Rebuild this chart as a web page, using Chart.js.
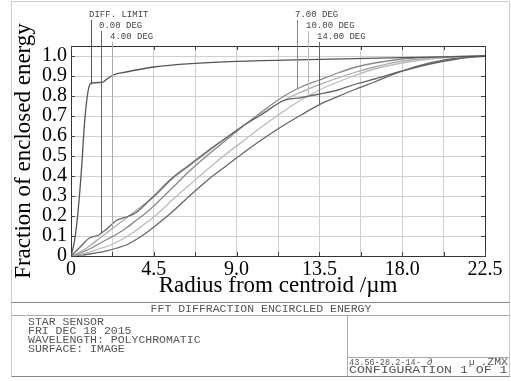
<!DOCTYPE html>
<html>
<head>
<meta charset="utf-8">
<script src="https://cdn.jsdelivr.net/npm/chart.js@4/dist/chart.umd.min.js"></script>
<style>
  html, body { margin: 0; padding: 0; background: #fff; }
  #chart { display: block; }
</style>
</head>
<body>
<canvas id="chart" width="511" height="381"></canvas>
<script>
// --- data ---
const diffRadius = [0, 0.2, 0.38, 0.56, 0.74, 0.92, 1.1, 1.7, 1.95, 2.3, 3.0, 4.5, 6.75, 9, 13.5, 18, 22.5];
const diffLimit  = [0, 0.08, 0.22, 0.42, 0.67, 0.82, 0.865, 0.868, 0.885, 0.905, 0.92, 0.945, 0.963, 0.973, 0.983, 0.992, 1.0];

const radius  = [0, 0.5, 1, 1.5, 2, 2.5, 3, 3.5, 4, 4.5, 5.5, 6.5, 7.5, 8.5, 9.5, 10.5, 11.5, 12.5, 13.5, 14.5, 15.5, 16.5, 18, 19.5, 21, 22.5];
const field0  = [0, 0.045, 0.09, 0.105, 0.14, 0.18, 0.195, 0.215, 0.255, 0.30, 0.39, 0.46, 0.53, 0.595, 0.66, 0.715, 0.775, 0.792, 0.81, 0.83, 0.86, 0.885, 0.925, 0.96, 0.985, 1.0];
const field4  = [0, 0.02, 0.05, 0.085, 0.12, 0.155, 0.19, 0.225, 0.26, 0.295, 0.385, 0.455, 0.525, 0.595, 0.66, 0.72, 0.775, 0.82, 0.857, 0.89, 0.92, 0.945, 0.974, 0.99, 0.997, 1.0];
const field7  = [0, 0.015, 0.035, 0.06, 0.085, 0.11, 0.14, 0.175, 0.21, 0.25, 0.34, 0.43, 0.51, 0.585, 0.66, 0.73, 0.795, 0.845, 0.88, 0.915, 0.945, 0.965, 0.985, 0.993, 0.998, 1.0];
const field10 = [0, 0.008, 0.02, 0.035, 0.05, 0.07, 0.095, 0.125, 0.16, 0.195, 0.28, 0.36, 0.44, 0.515, 0.585, 0.655, 0.72, 0.78, 0.83, 0.87, 0.905, 0.935, 0.965, 0.985, 0.995, 1.0];
const field14 = [0, 0.004, 0.01, 0.018, 0.027, 0.04, 0.055, 0.08, 0.11, 0.145, 0.22, 0.305, 0.385, 0.455, 0.525, 0.59, 0.65, 0.705, 0.757, 0.797, 0.835, 0.87, 0.925, 0.965, 0.99, 1.0];

const seriesNames = ['DIFF. LIMIT', '0.00 DEG', '4.00 DEG', '7.00 DEG', '10.00 DEG', '14.00 DEG'];
const labelRadius = [1.07, 1.63, 2.25, 12.3, 12.9, 13.5];   // where each leader line drops onto its curve

const xTickLabels = ['0', '4.5', '9.0', '13.5', '18.0', '22.5'];
const yTickLabels = ['0', '0.1', '0.2', '0.3', '0.4', '0.5', '0.6', '0.7', '0.8', '0.9', '1.0'];

const plotTitle = 'FFT DIFFRACTION ENCIRCLED ENERGY';
const infoLines = ['STAR SENSOR', 'FRI DEC 18 2015', 'WAVELENGTH: POLYCHROMATIC', 'SURFACE: IMAGE'];
const configLine = 'CONFIGURATION 1 OF 1';

const colors = ['#555', '#666', '#aaa', '#888', '#bbb', '#666'];

function points(xs, ys) {
    return xs.map((x, i) => ({ x: x, y: ys[i] }));
}

const seriesData = [
    points(diffRadius, diffLimit),
    points(radius, field0),
    points(radius, field4),
    points(radius, field7),
    points(radius, field10),
    points(radius, field14)
];

// value of a curve at x (linear between samples), for the leader lines
function valueAt(data, x) {
    for (let i = 1; i < data.length; i++) {
        if (x <= data[i].x) {
            const a = data[i - 1], b = data[i];
            return a.y + (b.y - a.y) * (x - a.x) / (b.x - a.x);
        }
    }
    return data[data.length - 1].y;
}

function monoText(ctx, text, x, y, size, stretch, align) {
    ctx.save();
    ctx.font = size + 'px "Liberation Mono", "DejaVu Sans Mono", monospace';
    ctx.textBaseline = 'middle';
    let w = ctx.measureText(text).width * stretch;
    let x0 = x;
    if (align === 'center') x0 = x - w / 2;
    if (align === 'right') x0 = x - w;
    ctx.translate(x0, y);
    ctx.scale(stretch, 1);
    ctx.textAlign = 'left';
    ctx.fillText(text, 0, 0);
    ctx.restore();
}

function hline(ctx, x1, x2, y) {
    ctx.beginPath(); ctx.moveTo(x1, y); ctx.lineTo(x2, y); ctx.stroke();
}
function vline(ctx, x, y1, y2) {
    ctx.beginPath(); ctx.moveTo(x, y1); ctx.lineTo(x, y2); ctx.stroke();
}

// --- frame, inner ticks, leader labels and the info box ---
const decorations = {
    id: 'decorations',
    afterDatasetsDraw(chart) {
        const ctx = chart.ctx;
        const area = chart.chartArea;
        const xs = chart.scales.x, ys = chart.scales.y;

        ctx.save();
        ctx.lineWidth = 1;

        // plot frame
        ctx.strokeStyle = '#333';
        ctx.strokeRect(Math.round(area.left) + 0.5, Math.round(area.top) + 0.5,
            Math.round(area.right - area.left), Math.round(area.bottom - area.top));

        // inner tick marks
        ctx.strokeStyle = '#444';
        xs.ticks.forEach(t => {
            const px = Math.round(xs.getPixelForValue(t.value)) + 0.5;
            vline(ctx, px, area.top, area.top + 4);
            vline(ctx, px, area.bottom - 4, area.bottom);
        });
        ys.ticks.forEach(t => {
            const py = Math.round(ys.getPixelForValue(t.value)) + 0.5;
            hline(ctx, area.left, area.left + 4, py);
            hline(ctx, area.right - 4, area.right, py);
        });

        // leader lines from the labels down to each curve
        const rowY = [15, 26, 37];
        seriesNames.forEach((name, i) => {
            const row = i % 3;
            const px = Math.round(xs.getPixelForValue(labelRadius[i])) + 0.5;
            const py = ys.getPixelForValue(valueAt(seriesData[i], labelRadius[i]));
            ctx.strokeStyle = colors[i];
            vline(ctx, px, rowY[row] + 5, py);
            ctx.fillStyle = '#444';
            monoText(ctx, name, px - 2.5, rowY[row], 8.5, 1.06, 'left');
        });

        // outer border
        ctx.strokeStyle = '#ccc';
        hline(ctx, 11.5, 509.5, 1.5);
        vline(ctx, 11.5, 1.5, 377);
        vline(ctx, 509.5, 1.5, 377);

        // info box
        ctx.strokeStyle = '#888';
        hline(ctx, 11.5, 509.5, 302.5);
        ctx.strokeStyle = '#aaa';
        hline(ctx, 11.5, 509.5, 315.5);
        vline(ctx, 347.5, 315.5, 377);
        hline(ctx, 347.5, 509.5, 357.5);
        ctx.strokeStyle = '#888';
        hline(ctx, 11.5, 509.5, 376.5);

        ctx.fillStyle = '#555';
        monoText(ctx, plotTitle, 261, 309, 10, 1.15, 'center');
        infoLines.forEach((s, i) => monoText(ctx, s, 28, 322 + i * 9.2, 10, 1.15, 'left'));
        monoText(ctx, '43.56-28.2-14-', 349, 362.5, 9.5, 0.9, 'left');
        monoText(ctx, '\u2202', 427, 362.5, 9.5, 1.0, 'left');
        monoText(ctx, '\u00b5', 469, 362.5, 9.5, 1.0, 'left');
        monoText(ctx, '.ZMX', 508, 362.5, 10, 1.15, 'right');
        monoText(ctx, configLine, 349, 370.5, 10, 1.32, 'left');

        ctx.restore();
    }
};

const serif = '"Liberation Serif", "DejaVu Serif", serif';

new Chart(document.getElementById('chart').getContext('2d'), {
    type: 'line',
    data: {
        datasets: seriesData.map((d, i) => ({
            label: seriesNames[i],
            data: d,
            borderColor: colors[i],
            borderWidth: 1.3,
            pointRadius: 0,
            fill: false,
            cubicInterpolationMode: 'monotone'
        }))
    },
    options: {
        responsive: false,
        devicePixelRatio: 1,
        animation: false,
        layout: { padding: { top: 46, right: 26, bottom: 81, left: 0 } },
        plugins: {
            legend: { display: false },
            tooltip: { enabled: false }
        },
        scales: {
            x: {
                type: 'linear',
                min: 0,
                max: 22.5,
                afterFit: s => { s.height = 44; },
                afterBuildTicks: s => {
                    s.ticks = [];
                    for (let i = 0; i <= 10; i++) s.ticks.push({ value: i * 2.25 });
                },
                ticks: {
                    autoSkip: false,
                    maxRotation: 0,
                    padding: 2,
                    color: '#000',
                    font: { family: serif, size: 20 },
                    callback: (v, i) => (i % 2 === 0 ? xTickLabels[i / 2] : '')
                },
                grid: { color: '#cfcfcf', lineWidth: 1, drawTicks: false },
                border: { display: false },
                title: {
                    display: true,
                    text: 'Radius from centroid /\u00b5m',
                    color: '#000',
                    font: { family: serif, size: 23 },
                    padding: { top: 0, bottom: 0 }
                }
            },
            y: {
                type: 'linear',
                min: 0,
                max: 1.05,
                afterFit: s => { s.width = 71; },
                afterBuildTicks: s => {
                    s.ticks = yTickLabels.map(l => ({ value: parseFloat(l) }));
                },
                ticks: {
                    autoSkip: false,
                    padding: 4,
                    color: '#000',
                    font: { family: serif, size: 20 },
                    callback: (v, i) => yTickLabels[i]
                },
                grid: { color: '#cfcfcf', lineWidth: 1, drawTicks: false },
                border: { display: false },
                title: {
                    display: true,
                    text: 'Fraction of enclosed energy',
                    color: '#000',
                    font: { family: serif, size: 23 },
                    padding: { top: 10, bottom: 0 }
                }
            }
        }
    },
    plugins: [decorations]
});
</script>
</body>
</html>
